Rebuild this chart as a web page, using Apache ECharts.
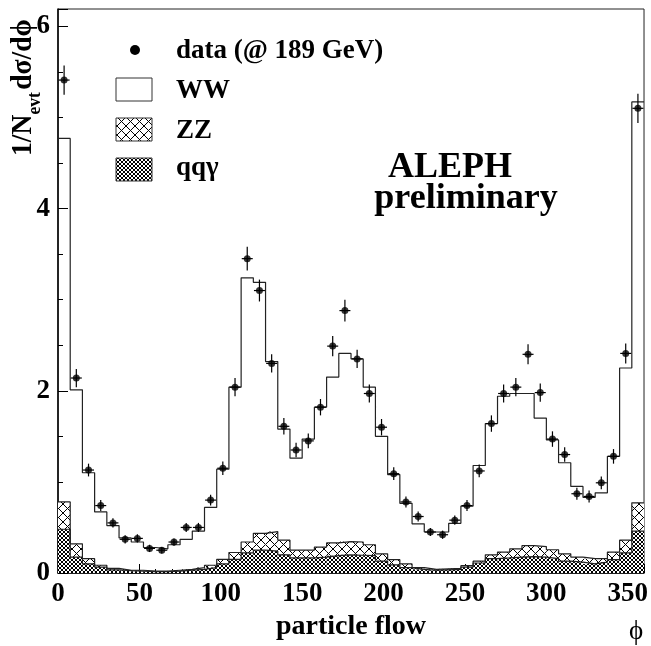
<!DOCTYPE html>
<html>
<head>
<meta charset="utf-8">
<script src="https://cdn.jsdelivr.net/npm/echarts@6/dist/echarts.min.js"></script>
<style>
  html, body { margin: 0; padding: 0; background: #fff; }
  #chart { width: 651px; height: 646px; }
</style>
</head>
<body>
<div id="chart"></div>
<script>
// 48 bins of 7.5 deg over 0..360
const binWidth = 7.5;
const xTicks = [0, 50, 100, 150, 200, 250, 300, 350];
const yTicks = [0, 2, 4, 6];

const dataValues = [5.41, 2.14, 1.13, 0.74, 0.55, 0.37, 0.38, 0.27, 0.25, 0.34, 0.50, 0.50,
  0.80, 1.15, 2.04, 3.45, 3.10, 2.30, 1.61, 1.35, 1.45, 1.82, 2.49, 2.88,
  2.35, 1.97, 1.60, 1.09, 0.78, 0.62, 0.45, 0.42, 0.58, 0.74, 1.12, 1.64,
  1.97, 2.04, 2.40, 1.98, 1.47, 1.30, 0.87, 0.84, 0.99, 1.28, 2.41, 5.10];
const dataErrors = [0.16, 0.10, 0.07, 0.06, 0.05, 0.045, 0.045, 0.04, 0.035, 0.04, 0.05, 0.05,
  0.06, 0.075, 0.10, 0.13, 0.12, 0.10, 0.09, 0.08, 0.08, 0.09, 0.11, 0.12,
  0.10, 0.10, 0.09, 0.07, 0.06, 0.055, 0.045, 0.045, 0.05, 0.06, 0.07, 0.09,
  0.10, 0.10, 0.11, 0.10, 0.085, 0.08, 0.065, 0.065, 0.07, 0.08, 0.11, 0.16];
const wwValues = [4.77, 2.01, 1.10, 0.67, 0.52, 0.385, 0.34, 0.28, 0.265, 0.31, 0.37, 0.46,
  0.72, 1.14, 2.04, 3.24, 3.19, 2.32, 1.58, 1.26, 1.47, 1.82, 2.15, 2.41,
  2.35, 2.04, 1.50, 1.08, 0.765, 0.54, 0.45, 0.45, 0.545, 0.735, 1.18, 1.64,
  1.94, 1.97, 1.97, 1.70, 1.46, 1.21, 0.95, 0.83, 0.88, 1.28, 2.25, 5.17];
const zzValues = [0.78, 0.32, 0.157, 0.085, 0.05, 0.03, 0.03, 0.02, 0.02, 0.03, 0.04, 0.06,
  0.085, 0.15, 0.225, 0.34, 0.435, 0.455, 0.36, 0.25, 0.25, 0.285, 0.33, 0.345,
  0.34, 0.31, 0.21, 0.146, 0.10, 0.06, 0.04, 0.045, 0.05, 0.08, 0.13, 0.20,
  0.23, 0.265, 0.30, 0.29, 0.255, 0.21, 0.175, 0.157, 0.157, 0.23, 0.36, 0.77];
const qqgValues = [0.48, 0.175, 0.10, 0.065, 0.035, 0.025, 0.02, 0.015, 0.015, 0.02, 0.03, 0.04,
  0.06, 0.10, 0.15, 0.22, 0.25, 0.24, 0.20, 0.165, 0.165, 0.175, 0.19, 0.20,
  0.195, 0.19, 0.13, 0.09, 0.06, 0.04, 0.03, 0.035, 0.04, 0.065, 0.11, 0.157,
  0.165, 0.175, 0.18, 0.175, 0.157, 0.13, 0.12, 0.10, 0.12, 0.146, 0.22, 0.46];

const FONT = "'Liberation Serif', 'DejaVu Serif', serif";

// cross hatch tiles
function hatch(size, lw) {
  const c = document.createElement("canvas");
  c.width = size;
  c.height = size;
  const ctx = c.getContext("2d");
  ctx.fillStyle = "#fff";
  ctx.fillRect(0, 0, size, size);
  ctx.strokeStyle = "#000";
  ctx.lineWidth = lw;
  ctx.beginPath();
  ctx.moveTo(-1, -1); ctx.lineTo(size + 1, size + 1);
  ctx.moveTo(size + 1, -1); ctx.lineTo(-1, size + 1);
  ctx.stroke();
  return c;
}
const zzFill = { image: hatch(9, 1), repeat: "repeat" };
const qqFill = { image: hatch(4, 1), repeat: "repeat" };

// histogram helpers
const rects = (vals) => vals.map((v, i) => [i * binWidth, (i + 1) * binWidth, v]);
const steps = (vals) => vals.map((v, i) => [i * binWidth, v]).concat([[vals.length * binWidth, vals[vals.length - 1]]]);

const rectRender = (fill) => (params, api) => {
  const p0 = api.coord([api.value(0), api.value(2)]);
  const p1 = api.coord([api.value(1), 0]);
  return {
    type: "rect",
    shape: { x: p0[0], y: p0[1], width: p1[0] - p0[0], height: p1[1] - p0[1] },
    style: { fill: fill },
  };
};

const stepLine = (vals, z) => ({
  type: "line",
  step: "end",
  data: steps(vals),
  symbol: "none",
  z: z,
  lineStyle: { color: "#222", width: 1.2 },
});

const points = dataValues.map((v, i) => [(i + 0.5) * binWidth, v, dataErrors[i]]);

const chart = echarts.init(document.getElementById("chart"));
chart.setOption({
  animation: false,
  backgroundColor: "#fff",
  grid: {
    left: 58, right: 6, top: 9, bottom: 66,
    show: true, borderColor: "#222", borderWidth: 1,
  },
  xAxis: {
    type: "value",
    min: 0, max: 360, interval: 50,
    name: "particle flow",
    nameLocation: "middle",
    nameGap: 40,
    nameTextStyle: { fontFamily: FONT, fontWeight: "bold", fontSize: 28, color: "#000" },
    axisLine: { lineStyle: { color: "#000", width: 1.5 } },
    axisTick: { inside: true, length: 9, lineStyle: { color: "#000" } },
    minorTick: { show: true, splitNumber: 5, length: 4, lineStyle: { color: "#000" } },
    splitLine: { show: false },
    axisLabel: {
      showMaxLabel: false,
      fontFamily: FONT, fontWeight: "bold", fontSize: 27, color: "#000", margin: 8,
      formatter: (v) => (xTicks.indexOf(v) >= 0 ? String(v) : ""),
    },
  },
  yAxis: {
    type: "value",
    min: 0, max: 6.19, interval: 2,
    axisLine: { show: true, lineStyle: { color: "#000", width: 1.5 } },
    axisTick: { inside: true, length: 10, lineStyle: { color: "#000" } },
    minorTick: { show: true, splitNumber: 4, length: 5, lineStyle: { color: "#000" } },
    splitLine: { show: false },
    axisLabel: {
      showMaxLabel: false,
      fontFamily: FONT, fontWeight: "bold", fontSize: 27, color: "#000", margin: 8,
      formatter: (v) => (yTicks.indexOf(v) >= 0 ? String(v) : ""),
    },
  },
  graphic: [
    // y axis title, rotated
    {
      type: "group", x: 38, y: 156, rotation: Math.PI / 2, scaleX: 0.92,
      children: [
        { type: "text", x: 0, y: 0, style: { text: "1/N", font: "bold 30px " + FONT, fill: "#000", verticalAlign: "bottom" } },
        { type: "text", x: 45, y: 7, style: { text: "evt", font: "bold 19px " + FONT, fill: "#000", verticalAlign: "bottom" } },
        { type: "text", x: 72, y: 0, style: { text: "dσ/dϕ", font: "bold 30px " + FONT, fill: "#000", verticalAlign: "bottom" } },
      ],
    },
    { type: "text", x: 636, y: 632, style: { text: "ϕ", font: "27px " + FONT, fill: "#000", align: "center", verticalAlign: "middle" } },
    // legend
    { type: "circle", shape: { cx: 135, cy: 50, r: 5 }, style: { fill: "#000" }, z: 10 },
    { type: "text", x: 176, y: 51, style: { text: "data (@ 189 GeV)", font: "bold 27px " + FONT, fill: "#000", verticalAlign: "middle" }, z: 10 },
    { type: "rect", shape: { x: 116, y: 78, width: 36, height: 23 }, style: { fill: "#fff", stroke: "#333", lineWidth: 1 }, z: 10 },
    { type: "text", x: 176, y: 91, style: { text: "WW", font: "bold 27px " + FONT, fill: "#000", verticalAlign: "middle" }, z: 10 },
    { type: "rect", shape: { x: 116, y: 118, width: 36, height: 23 }, style: { fill: zzFill, stroke: "#333", lineWidth: 1 }, z: 10 },
    { type: "text", x: 176, y: 131, style: { text: "ZZ", font: "bold 27px " + FONT, fill: "#000", verticalAlign: "middle" }, z: 10 },
    { type: "rect", shape: { x: 116, y: 158, width: 36, height: 23 }, style: { fill: qqFill, stroke: "#333", lineWidth: 1 }, z: 10 },
    { type: "text", x: 176, y: 168, style: { text: "qqγ", font: "bold 27px " + FONT, fill: "#000", verticalAlign: "middle" }, z: 10 },
    // experiment label
    { type: "text", x: 450, y: 168, style: { text: "ALEPH", font: "bold 36px " + FONT, fill: "#000", align: "center", verticalAlign: "middle" }, z: 10 },
    { type: "text", x: 466, y: 199, style: { text: "preliminary", font: "bold 36px " + FONT, fill: "#000", align: "center", verticalAlign: "middle" }, z: 10 },
  ],
  series: [
    { type: "custom", data: rects(zzValues), renderItem: rectRender(zzFill), z: 2, encode: { x: [0, 1], y: 2 } },
    { type: "custom", data: rects(qqgValues), renderItem: rectRender(qqFill), z: 3, encode: { x: [0, 1], y: 2 } },
    stepLine(wwValues, 4),
    stepLine(zzValues, 4),
    stepLine(qqgValues, 4),
    {
      type: "custom",
      data: points,
      z: 5,
      encode: { x: 0, y: 1 },
      renderItem: (params, api) => {
        const x = api.value(0), y = api.value(1), e = api.value(2);
        const top = api.coord([x, y + e]);
        const bot = api.coord([x, y - e]);
        const l = api.coord([x - binWidth * 0.45, y]);
        const r = api.coord([x + binWidth * 0.45, y]);
        const st = { stroke: "#000", lineWidth: 1.2 };
        return {
          type: "group",
          children: [
            { type: "line", shape: { x1: top[0], y1: top[1], x2: bot[0], y2: bot[1] }, style: st },
            { type: "line", shape: { x1: l[0], y1: l[1], x2: r[0], y2: r[1] }, style: st },
          ],
        };
      },
    },
    {
      type: "scatter",
      data: points.map((p) => [p[0], p[1]]),
      symbol: "circle",
      symbolSize: 7,
      z: 6,
      itemStyle: { color: "#000" },
    },
  ],
});
</script>
</body>
</html>
